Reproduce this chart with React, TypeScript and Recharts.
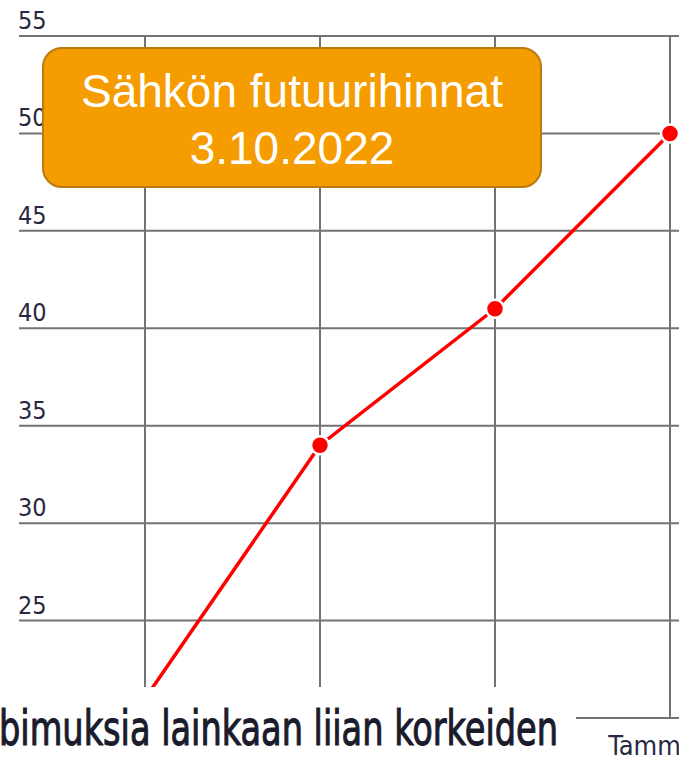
import { LineChart, Line, XAxis, YAxis, CartesianGrid } from "recharts"

const months = ["Lokakuu", "Marraskuu", "Joulukuu", "Tammikuu"]
const prices = [21, 34, 41, 50]
const yTicks = [20, 25, 30, 35, 40, 45, 50, 55]

const data = months.map((month, i) => ({ month, price: prices[i] }))

const PLOT_LEFT = 19
const labelFont = "'DejaVu Sans Condensed', 'Liberation Sans Narrow', sans-serif"
const gridColor = "#737373"

function YTick(props: any) {
  const { y, payload } = props
  if (payload.value === 20) return <g />
  return (
    <text x={PLOT_LEFT - 1} y={y - 7} textAnchor="start" fontFamily={labelFont} fontSize={25} fill="#262940">
      {payload.value}
    </text>
  )
}

function XTick(props: any) {
  const { x, y, payload } = props
  return (
    <text x={x} y={y + 37} textAnchor="middle" fontFamily={labelFont} fontSize={27} fill="#262940">
      {payload.value}
    </text>
  )
}

export default function App() {
  return (
    <div
      style={{
        position: "absolute",
        left: 0,
        top: 0,
        width: 679,
        height: 759,
        overflow: "hidden",
        background: "#fff",
      }}
    >
      <LineChart width={760} height={759} data={data} margin={{ top: 36, right: 0, bottom: 0, left: PLOT_LEFT - 1 }}>
        <CartesianGrid stroke={gridColor} strokeWidth={2} syncWithTicks />
        <XAxis
          dataKey="month"
          height={41}
          padding={{ left: 126, right: 90 }}
          interval={0}
          tickLine={false}
          tickSize={0}
          tickMargin={0}
          axisLine={{ stroke: gridColor, strokeWidth: 2 }}
          tick={(p: any) => <XTick {...p} />}
        />
        <YAxis
          domain={[20, 55]}
          ticks={yTicks}
          width={1}
          interval={0}
          tickSize={0}
          tickMargin={0}
          axisLine={false}
          tickLine={false}
          tick={(p: any) => <YTick {...p} />}
        />
        <Line
          dataKey="price"
          stroke="#ff0000"
          strokeWidth={3.5}
          dot={{ r: 9, fill: "#ff0000", stroke: "#fff", strokeWidth: 2.5 }}
          isAnimationActive={false}
        />
      </LineChart>

      {/* title badge */}
      <div
        style={{
          position: "absolute",
          left: 42,
          top: 47,
          width: 496,
          height: 123,
          border: "2px solid #b97a10",
          borderRadius: 20,
          background: "#f59c00",
          color: "#fff",
          fontFamily: "'Liberation Sans', Arial, sans-serif",
          fontSize: 46,
          lineHeight: "57px",
          textAlign: "center",
          paddingTop: 14,
          boxSizing: "content-box",
        }}
      >
        Sähkön futuurihinnat
        <br />
        3.10.2022
      </div>

      {/* overlapping text strip */}
      <svg
        width={576}
        height={72}
        style={{ position: "absolute", left: 0, top: 687, background: "#fff" }}
      >
        <text
          x={-1}
          y={58}
          fontFamily={labelFont}
          fontSize={48}
          fill="#1a1c2c"
          stroke="#1a1c2c"
          strokeWidth={1.1}
          textLength={559}
          lengthAdjust="spacingAndGlyphs"
        >
          bimuksia lainkaan liian korkeiden
        </text>
      </svg>
    </div>
  )
}
